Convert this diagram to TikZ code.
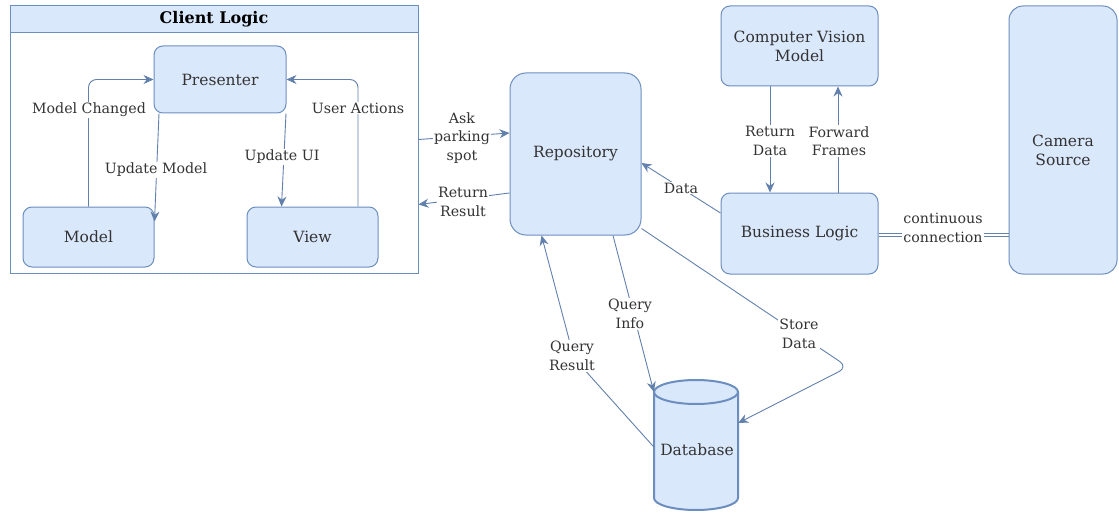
\documentclass[tikz,border=0pt]{standalone}
\usepackage{fontspec}
\setmainfont{DejaVu Serif}
\usetikzlibrary{arrows.meta}
\definecolor{boxfill}{HTML}{DAE8FC}
\definecolor{boxdraw}{HTML}{6C8EBF}
\definecolor{txt}{HTML}{333333}
\begin{document}
\begin{tikzpicture}[x=1pt,y=-1pt,
  box/.style={draw=boxdraw, fill=boxfill, rounded corners=9pt, line width=1pt, text=txt, align=center, font=\fontsize{15.5}{19}\selectfont},
  arr/.style={draw=boxdraw!90!black, line width=0.9pt, -{Stealth[length=10pt,width=9pt]}},
  plain/.style={draw=boxdraw!90!black, line width=0.9pt},
  lbl/.style={fill=white, text=txt, align=center, inner sep=1pt, font=\fontsize{14.2}{18.5}\selectfont}]
\useasboundingbox (0,0) rectangle (1119,516);
% Client Logic container
\node[draw=boxdraw, line width=1pt, minimum width=408pt, minimum height=267pt, inner sep=0pt] (client) at (214,139.5) {};
\node[draw=boxdraw, fill=boxfill, line width=1pt, minimum width=408pt, minimum height=27pt, inner sep=0pt, text=black, font=\fontsize{16}{18}\selectfont\bfseries] (clienthead) at (214,19.5) {Client Logic};
% nodes
\node[box, minimum width=132pt, minimum height=67pt] (pres) at (220,79.5) {Presenter};
\node[box, minimum width=131pt, minimum height=60pt] (model) at (88.5,237) {Model};
\node[box, minimum width=131pt, minimum height=60pt] (view) at (312.5,237) {View};
\node[box, rounded corners=16pt, minimum width=131pt, minimum height=162pt] (repo) at (575.5,154) {Repository};
\node[box, minimum width=157pt, minimum height=80pt] (cv) at (799.5,46) {Computer Vision\\Model};
\node[box, minimum width=157pt, minimum height=81pt] (bl) at (799.5,233.5) {Business Logic};
\node[box, rounded corners=14pt, minimum width=108pt, minimum height=268pt] (cam) at (1063,140) {};
\node[text=txt, align=center, font=\fontsize{15.5}{19}\selectfont] (camlbl) at (1063,150) {Camera\\Source};
% database cylinder
\node[minimum width=84pt, minimum height=130pt, inner sep=0pt] (db) at (696,445) {};
\draw[draw=boxdraw, fill=boxfill, line width=2pt] (654,392) -- (654,498) arc[start angle=180, end angle=0, x radius=42, y radius=12] -- (738,392);
\draw[draw=boxdraw, fill=boxfill, line width=2pt] (696,392) ellipse[x radius=42, y radius=12];
\node[text=txt, font=\fontsize{15.5}{18}\selectfont] (dblbl) at (697,450) {Database};
% connectors
\draw[arr, rounded corners=8pt] (model.north) |- (pres.west);
\draw[arr, rounded corners=8pt] ([xshift=45.5pt]view.north) |- (pres.east);
\draw[arr] ([xshift=-61pt]pres.south) -- ([yshift=-15pt]model.north east);
\draw[arr] ([xshift=66pt]pres.south) -- ([xshift=-31pt]view.north);
\draw[arr] (client.east) -- ([yshift=21pt]repo.west);
\draw[arr] ([yshift=-39pt]repo.west) -- ([yshift=-65pt]client.east);
\draw[arr] ([yshift=20.5pt]bl.west) -- ([yshift=-9pt]repo.east);
\draw[arr] ([xshift=-29.5pt]cv.south) -- ([xshift=-29.5pt]bl.north);
\draw[arr] ([xshift=38.5pt]bl.north) -- ([xshift=38.5pt]cv.south);
\draw[plain] ([yshift=-3pt]bl.east) -- ([yshift=-96.5pt]cam.west);
\draw[plain] ([yshift=0pt]bl.east) -- ([yshift=-93.5pt]cam.west);
\draw[arr] ([xshift=37.5pt]repo.south) -- ([yshift=-12pt]db.north west);
\coordinate (qr) at (574,358);
\draw[arr] ([yshift=-2pt]db.west) -- (qr) -- ([xshift=-34pt]repo.south);
\coordinate (bend) at (848,367);
\draw[arr, rounded corners=10pt] ([yshift=7pt]repo.south east) -- (bend) -- ([yshift=22pt]db.east);
% labels
\node[lbl] (l1) at (89,110) {Model Changed};
\node[lbl] (l2) at (156,170) {Update Model};
\node[lbl] (l3) at (282,157) {Update UI};
\node[lbl] (l4) at (358,108) {User Actions};
\node[lbl] (l5) at (462,138) {Ask\\parking\\spot};
\node[lbl] (l6) at (463,202) {Return\\Result};
\node[lbl] (l7) at (681,188) {Data};
\node[lbl] (l8) at (770,141) {Return\\Data};
\node[lbl] (l9) at (839,141) {Forward\\Frames};
\node[lbl] (l10) at (943,228) {continuous\\connection};
\node[lbl] (l11) at (630,314) {Query\\Info};
\node[lbl] (l12) at (572,356) {Query\\Result};
\node[lbl] (l13) at (799,334) {Store\\Data};
\end{tikzpicture}
\end{document}
